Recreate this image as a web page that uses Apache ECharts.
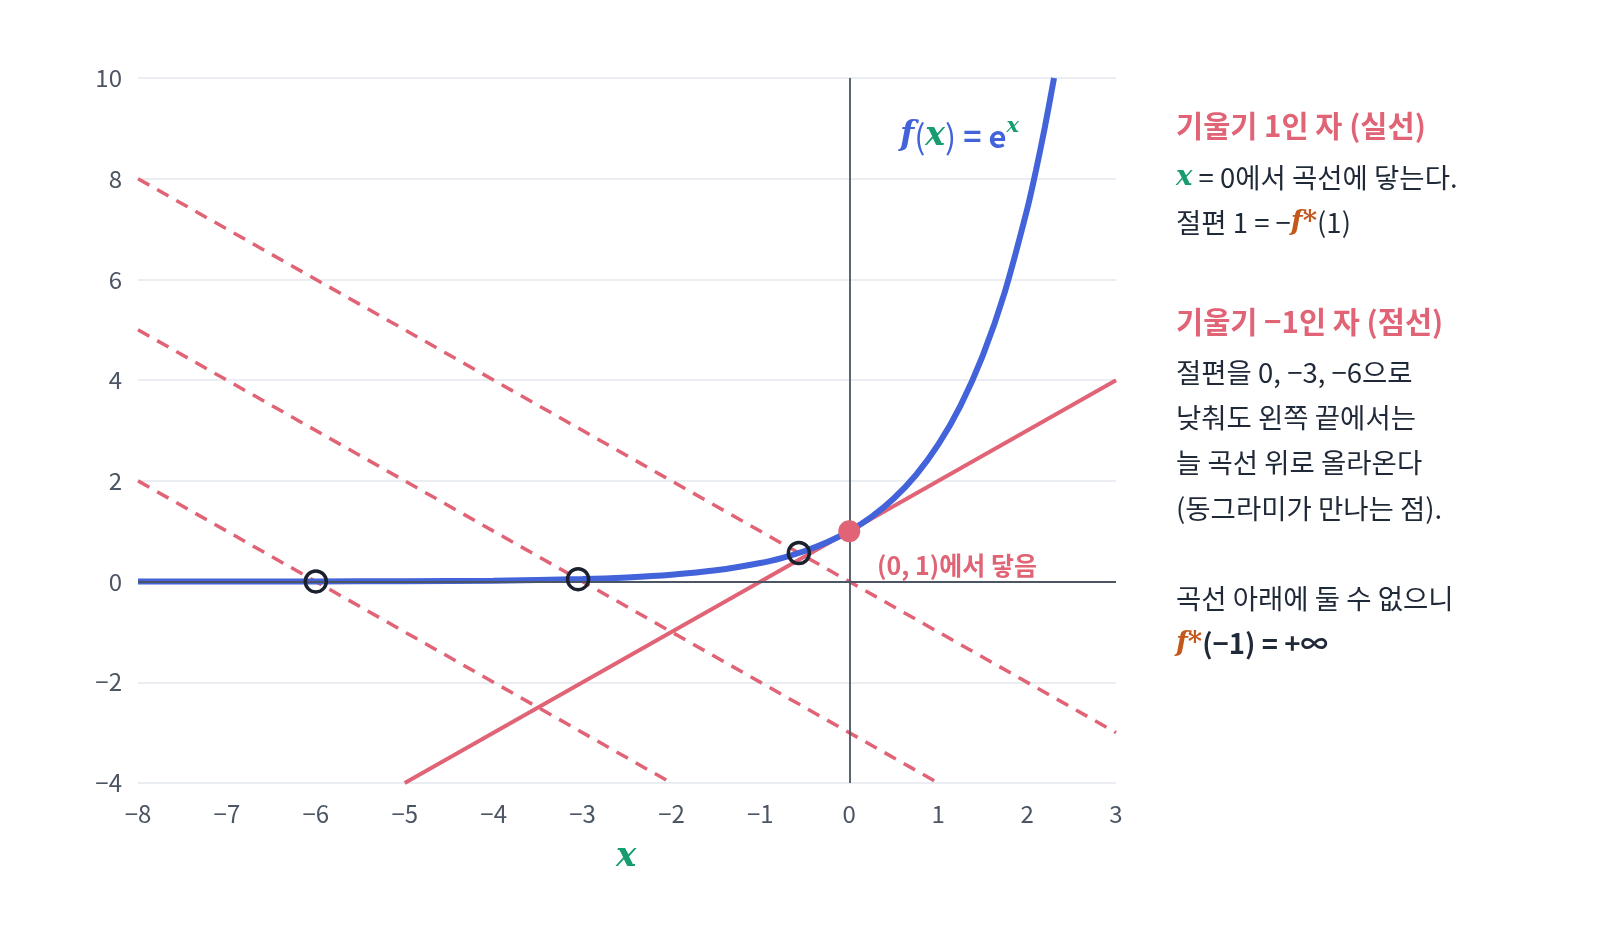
<!DOCTYPE html>
<html>
<head>
<meta charset="utf-8">
<script src="https://cdn.jsdelivr.net/npm/echarts@6/dist/echarts.min.js"></script>
<style>
  html, body { margin: 0; padding: 0; background: #fff; }
  #main { width: 1600px; height: 940px; }
</style>
</head>
<body>
<div id="main"></div>
<script>
// f(x) = e^x
var curveX = [-8, -7, -6, -5, -4, -3, -2.5, -2, -1.5, -1, -0.75, -0.5, -0.25, 0, 0.25, 0.5, 0.75, 1, 1.25, 1.5, 1.75, 2, 2.1, 2.2, 2.303];
var curveY = [0.0003, 0.0009, 0.0025, 0.0067, 0.018, 0.050, 0.082, 0.135, 0.223, 0.368, 0.472, 0.607, 0.779, 1, 1.284, 1.649, 2.117, 2.718, 3.490, 4.482, 5.755, 7.389, 8.166, 9.025, 10];

// slope 1 line (solid) and slope -1 lines (dashed), end points
var solidLine = [[-5, -4], [3, 4]];
var dashedLines = [
    [[-8, 8], [3, -3]],
    [[-8, 5], [1, -4]],
    [[-8, 2], [-2, -4]]
];
// where the dashed lines meet the curve
var meetPoints = [[-6.0, 0.0025], [-3.05, 0.047], [-0.567, 0.567]];
var touchPoint = [[0, 1]];

var xTicks = [-8, 3, 1];
var yTicks = [-4, 10, 2];

var RED = '#e06476';
var BLUE = '#4263d9';
var GREEN = '#179c72';
var ORANGE = '#c4581c';
var TEXT = '#1f2937';
var FONT = '"Noto Sans CJK KR", "Noto Sans", sans-serif';
var SERIF = '"DejaVu Serif", serif';

function minus(v) {
    return String(v).replace('-', '\u2212');
}

var curveData = curveX.map(function (x, i) { return [x, curveY[i]]; });

var series = [];
series.push({
    type: 'line',
    data: curveData,
    smooth: 0.3,
    showSymbol: false,
    lineStyle: { color: BLUE, width: 6 },
    z: 4,
    markLine: {
        silent: true,
        symbol: 'none',
        label: { show: false },
        lineStyle: { color: '#4b5563', width: 1.8, type: 'solid' },
        data: [{ xAxis: 0 }, { yAxis: 0 }]
    }
});
series.push({
    type: 'line',
    data: solidLine,
    showSymbol: false,
    lineStyle: { color: RED, width: 4 },
    z: 3
});
dashedLines.forEach(function (d) {
    series.push({
        type: 'line',
        data: d,
        showSymbol: false,
        lineStyle: { color: RED, width: 3.5, type: [13, 9] },
        z: 3
    });
});
series.push({
    type: 'scatter',
    data: meetPoints,
    symbolSize: 21,
    itemStyle: { color: 'rgba(0,0,0,0)', borderColor: '#1c2130', borderWidth: 3.5, opacity: 1 },
    z: 6
});
series.push({
    type: 'scatter',
    data: touchPoint,
    symbolSize: 22,
    itemStyle: { color: RED, opacity: 1 },
    z: 7
});

var BODY = 27.5;
var HEAD = 29.5;

var bodyRich = {
    x: { fontFamily: SERIF, fontStyle: 'italic', fontWeight: 'bold', fontSize: BODY, fill: GREEN, color: GREEN },
    f: { fontFamily: SERIF, fontStyle: 'italic', fontWeight: 'bold', fontSize: BODY, fill: ORANGE, color: ORANGE },
    b: { fontFamily: FONT, fontWeight: 'bold', fontSize: BODY, fill: TEXT, color: TEXT }
};

function textEl(str, y, opt) {
    opt = opt || {};
    var size = opt.size || BODY;
    return {
        type: 'text',
        left: 1176,
        top: y - size / 2,
        z: 10,
        style: {
            text: str,
            font: (opt.bold ? 'bold ' : '') + size + 'px ' + FONT,
            fill: opt.color || TEXT,
            rich: bodyRich
        }
    };
}

var notes = [
    textEl('기울기 1인 자 (실선)', 126, { bold: true, size: HEAD, color: RED }),
    textEl('{x|x} = 0에서 곡선에 닿는다.', 178),
    textEl('절편 1 = \u2212{f|f*}(1)', 223),
    textEl('기울기 \u22121인 자 (점선)', 322, { bold: true, size: HEAD, color: RED }),
    textEl('절편을 0, \u22123, \u22126으로', 373),
    textEl('낮춰도 왼쪽 끝에서는', 418),
    textEl('늘 곡선 위로 올라온다', 463),
    textEl('(동그라미가 만나는 점).', 509),
    textEl('곡선 아래에 둘 수 없으니', 599),
    textEl('{f|f*}{b|(\u22121) = +\u221e}', 644)
];

var chart = echarts.init(document.getElementById('main'));
var option = {
    backgroundColor: '#ffffff',
    animation: false,
    grid: { left: 138, right: 484, top: 78, bottom: 157, containLabel: false },
    xAxis: {
        type: 'value',
        min: xTicks[0],
        max: xTicks[1],
        interval: xTicks[2],
        axisLine: { show: false },
        axisTick: { show: false },
        splitLine: { show: false },
        axisLabel: {
            margin: 19,
            fontSize: 24,
            color: '#4b5563',
            fontFamily: FONT,
            formatter: minus
        }
    },
    yAxis: {
        type: 'value',
        min: yTicks[0],
        max: yTicks[1],
        interval: yTicks[2],
        axisLine: { show: false },
        axisTick: { show: false },
        splitLine: { lineStyle: { color: '#e3e7ee', width: 1.5 } },
        axisLabel: {
            margin: 16,
            fontSize: 24,
            color: '#4b5563',
            fontFamily: FONT,
            formatter: minus
        }
    },
    graphic: [
        {
            type: 'text',
            left: 900,
            top: 116,
            z: 10,
            style: {
                text: '{f|f}{p|(}{x|x}{p|)}{e| = e}{s|x}',
                rich: {
                    f: { fontFamily: SERIF, fontStyle: 'italic', fontWeight: 'bold', fontSize: 33, fill: BLUE, color: BLUE },
                    p: { fontFamily: FONT, fontSize: 33, fill: BLUE, color: BLUE },
                    x: { fontFamily: SERIF, fontStyle: 'italic', fontWeight: 'bold', fontSize: 33, fill: GREEN, color: GREEN },
                    e: { fontFamily: FONT, fontWeight: 'bold', fontSize: 31, fill: BLUE, color: BLUE },
                    s: { fontFamily: SERIF, fontStyle: 'italic', fontWeight: 'bold', fontSize: 21, fill: GREEN, color: GREEN, verticalAlign: 'top', padding: [0, 0, 20, 0] }
                }
            }
        },
        {
            type: 'text',
            left: 877,
            top: 553,
            z: 10,
            style: {
                text: '(0, 1)에서 닿음',
                font: 'bold 25px ' + FONT,
                fill: RED
            }
        },
        {
            type: 'text',
            left: 616,
            top: 840,
            z: 10,
            style: {
                text: 'x',
                font: 'italic bold 34px ' + SERIF,
                fill: GREEN
            }
        }
    ].concat(notes),
    series: series
};

if (option && typeof option === "object") {
    chart.setOption(option, true);
}
</script>
</body>
</html>
